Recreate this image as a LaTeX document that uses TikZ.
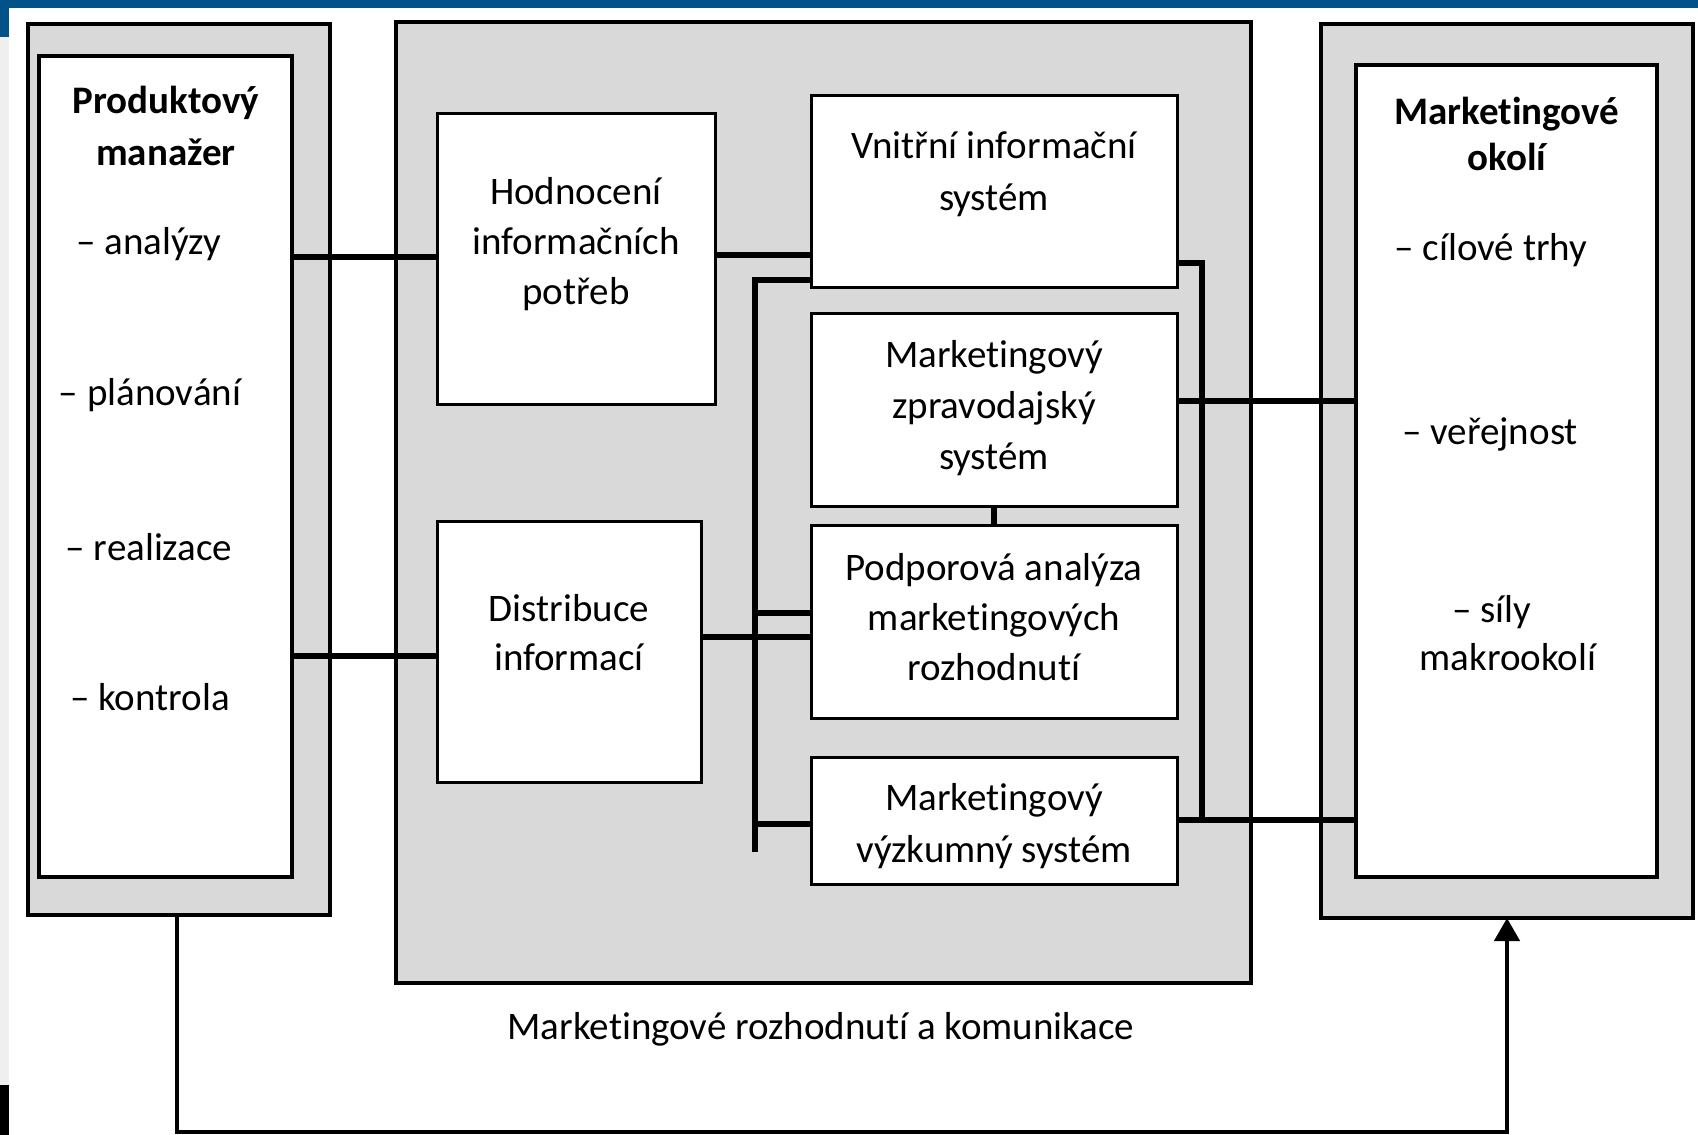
\documentclass[tikz,border=0pt]{standalone}
\usepackage{fontspec}
\setmainfont[Ligatures=NoCommon]{Carlito}
\usetikzlibrary{arrows.meta}
\definecolor{boxgray}{HTML}{D9D9D9}
\definecolor{topblue}{HTML}{02528A}
\definecolor{stripgray}{HTML}{EFEFEF}
\newcommand\lstrut{\rule[-12pt]{0pt}{38pt}}
\begin{document}
\begin{tikzpicture}[x=1pt,y=-1pt,
  every node/.style={inner sep=0pt, outer sep=0pt},
  outerbox/.style={draw=black, line width=4pt, fill=boxgray},
  innerbox/.style={draw=black, line width=3.5pt, fill=white},
  smallbox/.style={draw=black, line width=3pt, fill=white},
  conn/.style={line width=6pt},
  txt/.style={font=\fontsize{39}{51}\selectfont, align=center, anchor=north, yshift=-13.5pt},
  txtb/.style={txt, font=\fontsize{39}{52}\selectfont\bfseries},
  ]
\useasboundingbox (0,0) rectangle (1698,1135);
% screenshot frame
\fill[white] (0,0) rectangle (1698,1135);
\fill[topblue] (0,0) rectangle (1698,8);
\fill[stripgray] (0,8) rectangle (9,1085);
\fill[topblue] (0,0) rectangle (9,37);
\fill[black] (0,1085) rectangle (9,1135);

% outer boxes
\node[outerbox, minimum width=302pt, minimum height=891pt] (outL) at (179,469.5) {};
\node[outerbox, minimum width=855pt, minimum height=961pt] (mid) at (823.5,502.5) {};
\node[outerbox, minimum width=372pt, minimum height=894pt] (outR) at (1507,471) {};
% inner boxes
\node[innerbox, minimum width=253pt, minimum height=821pt] (pm) at (165.5,466.5) {};
\node[innerbox, minimum width=301pt, minimum height=812pt] (me) at (1506.5,471) {};
% small boxes
\node[smallbox, minimum width=278pt, minimum height=291pt] (hod) at (576,258.5) {};
\node[smallbox, minimum width=264pt, minimum height=261pt] (dis) at (569,651.5) {};
\node[smallbox, minimum width=366pt, minimum height=192pt] (vni) at (994,191) {};
\node[smallbox, minimum width=366pt, minimum height=193pt] (mzs) at (994,409.5) {};
\node[smallbox, minimum width=366pt, minimum height=193pt] (pod) at (994,621.5) {};
\node[smallbox, minimum width=366pt, minimum height=127pt] (mvs) at (994,820.5) {};

% texts
\node[txtb] (pmT) at (166,73) {\lstrut Produktový\\manažer};
\node[txt] (pm1) at (149,214) {\lstrut – analýzy};
\node[txt] (pm2) at (150,365) {\lstrut – plánování};
\node[txt] (pm3) at (149,520) {\lstrut – realizace};
\node[txt] (pm4) at (150,670) {\lstrut – kontrola};

\node[txtb, font=\fontsize{39}{46}\selectfont\bfseries] (meT) at (1507,84) {\lstrut Marketingové\\okolí};
\node[txt] (me1) at (1491,220) {\lstrut – cílové trhy};
\node[txt] (me2) at (1490,404) {\lstrut – veřejnost};
\node[txt] (me3) at (1492,582) {\lstrut – síly};
\node[txt] (me4) at (1508,630) {\lstrut makrookolí};

\node[txt, font=\fontsize{39}{50}\selectfont] (hodT) at (576,164) {\lstrut Hodnocení\\informačních\\potřeb};
\node[txt, font=\fontsize{39}{49}\selectfont] (disT) at (569,581) {\lstrut Distribuce\\informací};
\node[txt, font=\fontsize{39}{52}\selectfont] (vniT) at (994,118) {\lstrut Vnitřní informační\\systém};
\node[txt] (mzsT) at (994,327) {\lstrut Marketingový\\zpravodajský\\systém};
\node[txt, font=\fontsize{39}{50}\selectfont] (podT) at (994,540) {\lstrut Podporová analýza\\marketingových\\rozhodnutí};
\node[txt, font=\fontsize{39}{52}\selectfont] (mvsT) at (994,770) {\lstrut Marketingový\\výzkumný systém};
\node[txt] (cap) at (821,999) {\lstrut Marketingové rozhodnutí a komunikace};

% connector levels
\coordinate (y1) at (0,257);
\coordinate (y2) at (0,656);
\coordinate (y3) at (0,255);
\coordinate (y4) at (0,280);
\coordinate (y5) at (0,613);
\coordinate (y6) at (0,637);
\coordinate (y7) at (0,824);
\coordinate (y8) at (0,263);
\coordinate (y9) at (0,401);
\coordinate (y10) at (0,820);
\coordinate (lb) at (755,852);
\coordinate (rb) at (1202,820);
\coordinate (bl) at (177,1132);
\coordinate (br) at (1507,1132);

\draw[conn] (pm.east |- y1) -- (hod.west |- y1);
\draw[conn] (pm.east |- y2) -- (dis.west |- y2);
\draw[conn] (hod.east |- y3) -- (vni.west |- y3);
\draw[conn] (vni.west |- y4) -- (lb |- y4) -- (lb);
\draw[conn] (lb |- y5) -- (pod.west |- y5);
\draw[conn] (dis.east |- y6) -- (pod.west |- y6);
\draw[conn] (lb |- y7) -- (mvs.west |- y7);
\draw[conn] (mzs.south) -- (pod.north);
\draw[conn] (vni.east |- y8) -- (rb |- y8) -- (rb);
\draw[conn] (mzs.east |- y9) -- (me.west |- y9);
\draw[conn] (mvs.east |- y10) -- (me.west |- y10);
\draw[line width=4.5pt, -{Triangle[width=25pt,length=23pt]}]
  (outL.south -| bl) -- (bl) -- (br) -- (outR.south -| br);
\end{tikzpicture}
\end{document}
